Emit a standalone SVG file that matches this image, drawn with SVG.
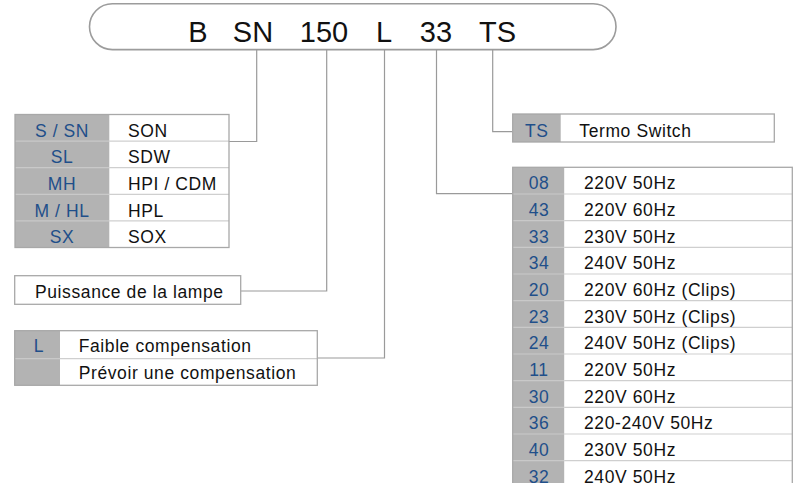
<svg xmlns="http://www.w3.org/2000/svg" width="800" height="483" viewBox="0 0 800 483">
<style>
.bg{fill:#ffffff}
.gray{fill:#b3b3b3}
.frame{fill:none;stroke:#a8a8a8;stroke-width:1.3}
.divw{stroke:#cfcfcf;stroke-width:1.2}
.divg{stroke:#c9c9c9;stroke-width:1.2}
.code{font-family:"Liberation Sans",Arial,sans-serif;font-size:17.5px;letter-spacing:0.6px;fill:#1f4f8a;text-anchor:middle}
.lbl{font-family:"Liberation Sans",Arial,sans-serif;font-size:17.5px;letter-spacing:0.6px;fill:#111111}
.big{font-family:"Liberation Sans",Arial,sans-serif;font-size:29px;fill:#111111;text-anchor:middle}
.conn{fill:none;stroke:#9a9a9a;stroke-width:1.2}
</style>
<rect width="800" height="483" fill="#ffffff"/>

<g id="code-pill">
  <rect x="89.5" y="3.8" width="526.5" height="45.8" rx="22.9" ry="22.9" fill="#ffffff" stroke="#9c9c9c" stroke-width="1.6"/>
  <text class="big" x="198" y="42.3">B</text>
  <text class="big" x="253" y="42.3">SN</text>
  <text class="big" x="324" y="42.3">150</text>
  <text class="big" x="384" y="42.3">L</text>
  <text class="big" x="436" y="42.3">33</text>
  <text class="big" x="497.5" y="42.3">TS</text>
</g>

<g id="connectors">
  <path class="conn" d="M256.7 49.6 V141.5 H229"/>
  <path class="conn" d="M326.7 49.6 V291 H240.7"/>
  <path class="conn" d="M384.5 49.6 V358 H317.3"/>
  <path class="conn" d="M436.5 49.6 V193.7 H512.7"/>
  <path class="conn" d="M492.7 49.6 V131.7 H512.7"/>
</g>

<g id="lamp-type-table">
  <rect class="bg" x="15" y="114.5" width="214" height="133"/>
  <rect class="gray" x="15" y="114.5" width="94.3" height="133"/>
  <line class="divg" x1="15" y1="141.1" x2="109.3" y2="141.1"/>
  <line class="divg" x1="15" y1="167.7" x2="109.3" y2="167.7"/>
  <line class="divg" x1="15" y1="194.3" x2="109.3" y2="194.3"/>
  <line class="divg" x1="15" y1="220.9" x2="109.3" y2="220.9"/>
  <line class="divw" x1="109.3" y1="141.1" x2="229" y2="141.1"/>
  <line class="divw" x1="109.3" y1="167.7" x2="229" y2="167.7"/>
  <line class="divw" x1="109.3" y1="194.3" x2="229" y2="194.3"/>
  <line class="divw" x1="109.3" y1="220.9" x2="229" y2="220.9"/>
  <rect class="frame" x="15" y="114.5" width="214" height="133"/>
  <text class="code" x="62" y="136.7">S / SN</text>
  <text class="code" x="62" y="163.3">SL</text>
  <text class="code" x="62" y="189.9">MH</text>
  <text class="code" x="62" y="216.5">M / HL</text>
  <text class="code" x="62" y="243.1">SX</text>
  <text class="lbl" x="128" y="136.7">SON</text>
  <text class="lbl" x="128" y="163.3">SDW</text>
  <text class="lbl" x="128" y="189.9">HPI / CDM</text>
  <text class="lbl" x="128" y="216.5">HPL</text>
  <text class="lbl" x="128" y="243.1">SOX</text>
</g>

<g id="power-box">
  <rect class="bg" x="14.7" y="275.7" width="226" height="28.6"/>
  <rect class="frame" x="14.7" y="275.7" width="226" height="28.6"/>
  <text class="lbl" x="35" y="298">Puissance de la lampe</text>
</g>

<g id="compensation-table">
  <rect class="bg" x="14.7" y="330.7" width="302.6" height="54.6"/>
  <rect class="gray" x="14.7" y="330.7" width="45.3" height="54.6"/>
  <line class="divg" x1="14.7" y1="358.7" x2="60" y2="358.7"/>
  <line class="divw" x1="60" y1="358.7" x2="317.3" y2="358.7"/>
  <rect class="frame" x="14.7" y="330.7" width="302.6" height="54.6"/>
  <text class="code" x="39" y="351.7">L</text>
  <text class="lbl" x="78.7" y="351.7">Faible compensation</text>
  <text class="lbl" x="78.7" y="379">Prévoir une compensation</text>
</g>

<g id="termo-switch-box">
  <rect class="bg" x="512.7" y="114" width="261.6" height="28"/>
  <rect class="gray" x="512.7" y="114" width="48" height="28"/>
  <rect class="frame" x="512.7" y="114" width="261.6" height="28"/>
  <text class="code" x="536.7" y="136.7">TS</text>
  <text class="lbl" x="579.3" y="136.7">Termo Switch</text>
</g>

<g id="voltage-table">
  <rect class="bg" x="512.7" y="167.3" width="279.6" height="325"/>
  <rect class="gray" x="512.7" y="167.3" width="51.5" height="325"/>
  <g>
    <line class="divg" x1="512.7" y1="194" x2="564.2" y2="194"/>
    <line class="divg" x1="512.7" y1="220.7" x2="564.2" y2="220.7"/>
    <line class="divg" x1="512.7" y1="247.3" x2="564.2" y2="247.3"/>
    <line class="divg" x1="512.7" y1="274" x2="564.2" y2="274"/>
    <line class="divg" x1="512.7" y1="300.7" x2="564.2" y2="300.7"/>
    <line class="divg" x1="512.7" y1="327.3" x2="564.2" y2="327.3"/>
    <line class="divg" x1="512.7" y1="354" x2="564.2" y2="354"/>
    <line class="divg" x1="512.7" y1="380.7" x2="564.2" y2="380.7"/>
    <line class="divg" x1="512.7" y1="407.3" x2="564.2" y2="407.3"/>
    <line class="divg" x1="512.7" y1="434" x2="564.2" y2="434"/>
    <line class="divg" x1="512.7" y1="460.7" x2="564.2" y2="460.7"/>
    <line class="divw" x1="564.2" y1="194" x2="792.3" y2="194"/>
    <line class="divw" x1="564.2" y1="220.7" x2="792.3" y2="220.7"/>
    <line class="divw" x1="564.2" y1="247.3" x2="792.3" y2="247.3"/>
    <line class="divw" x1="564.2" y1="274" x2="792.3" y2="274"/>
    <line class="divw" x1="564.2" y1="300.7" x2="792.3" y2="300.7"/>
    <line class="divw" x1="564.2" y1="327.3" x2="792.3" y2="327.3"/>
    <line class="divw" x1="564.2" y1="354" x2="792.3" y2="354"/>
    <line class="divw" x1="564.2" y1="380.7" x2="792.3" y2="380.7"/>
    <line class="divw" x1="564.2" y1="407.3" x2="792.3" y2="407.3"/>
    <line class="divw" x1="564.2" y1="434" x2="792.3" y2="434"/>
    <line class="divw" x1="564.2" y1="460.7" x2="792.3" y2="460.7"/>
  </g>
  <rect class="frame" x="512.7" y="167.3" width="279.6" height="325"/>
  <text class="code" x="539" y="189.3">08</text>
  <text class="code" x="539" y="216">43</text>
  <text class="code" x="539" y="242.7">33</text>
  <text class="code" x="539" y="269.3">34</text>
  <text class="code" x="539" y="296">20</text>
  <text class="code" x="539" y="322.7">23</text>
  <text class="code" x="539" y="349.3">24</text>
  <text class="code" x="539" y="376">11</text>
  <text class="code" x="539" y="402.7">30</text>
  <text class="code" x="539" y="429.3">36</text>
  <text class="code" x="539" y="456">40</text>
  <text class="code" x="539" y="482.7">32</text>
  <text class="lbl" x="584" y="189.3">220V 50Hz</text>
  <text class="lbl" x="584" y="216">220V 60Hz</text>
  <text class="lbl" x="584" y="242.7">230V 50Hz</text>
  <text class="lbl" x="584" y="269.3">240V 50Hz</text>
  <text class="lbl" x="584" y="296">220V 60Hz (Clips)</text>
  <text class="lbl" x="584" y="322.7">230V 50Hz (Clips)</text>
  <text class="lbl" x="584" y="349.3">240V 50Hz (Clips)</text>
  <text class="lbl" x="584" y="376">220V 50Hz</text>
  <text class="lbl" x="584" y="402.7">220V 60Hz</text>
  <text class="lbl" x="584" y="429.3">220-240V 50Hz</text>
  <text class="lbl" x="584" y="456">230V 50Hz</text>
  <text class="lbl" x="584" y="482.7">240V 50Hz</text>
</g>
</svg>
